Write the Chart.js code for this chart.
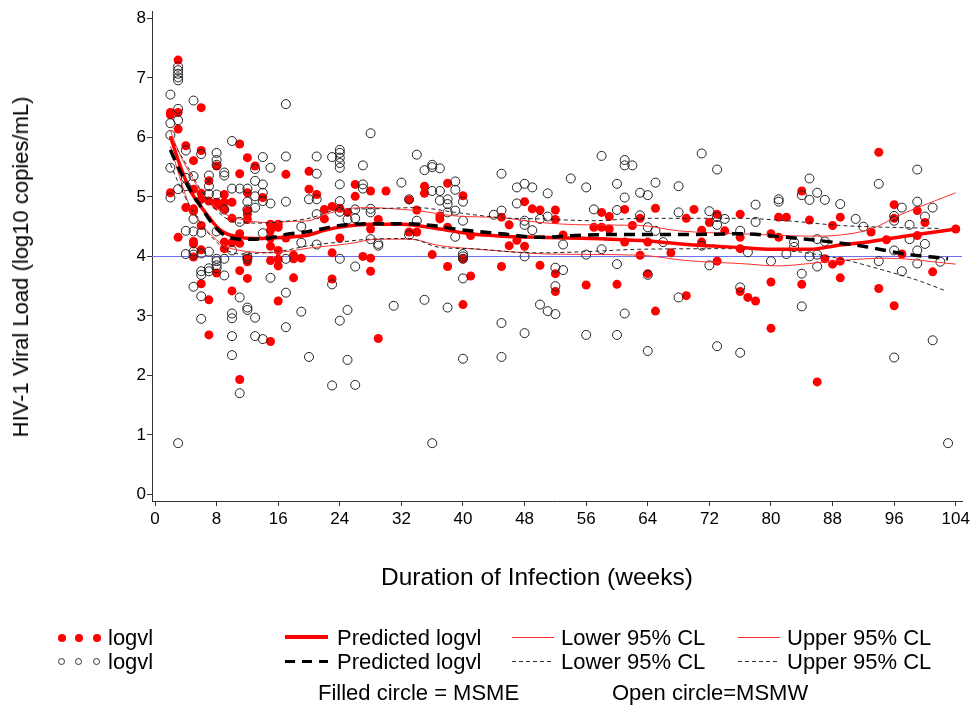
<!DOCTYPE html>
<html>
<head>
<meta charset="utf-8">
<script src="https://cdn.jsdelivr.net/npm/chart.js@4.4.1/dist/chart.umd.min.js"></script>
<style>
  html, body { margin: 0; padding: 0; background: #fff; }
  #wrap { position: relative; width: 977px; height: 713px; }
  #chart { position: absolute; left: 0; top: 0; }
  .lg { position: absolute; font: 22px "Liberation Sans", Arial, sans-serif; color: #000; line-height: 22px; white-space: nowrap; }
  .dot { position: absolute; width: 8px; height: 8px; border-radius: 50%; background: #ff0000; }
  .ring { position: absolute; width: 7px; height: 7px; border-radius: 50%; border: 1px solid #333; box-sizing: border-box; }
  .seg { position: absolute; }
  #xTitle { position: absolute; left: 381px; top: 564px; font: 24.5px "Liberation Sans", Arial, sans-serif; line-height: 26px; white-space: nowrap; }
  #yTitle { position: absolute; left: 21px; top: 267px; font: 22px "Liberation Sans", Arial, sans-serif; line-height: 24px; white-space: nowrap;
            transform: translate(-50%, -50%) rotate(-90deg); }
</style>
</head>
<body>
<div id="wrap">
  <canvas id="chart" width="977" height="713"></canvas>
  <div id="xTitle">Duration of Infection (weeks)</div>
  <div id="yTitle">HIV-1 Viral Load (log10 copies/mL)</div>
  <div id="legend"></div>
</div>
<script>
// axis ticks
const xTicks = [0, 8, 16, 24, 32, 40, 48, 56, 64, 72, 80, 88, 96, 104];
const yTicks = [0, 1, 2, 3, 4, 5, 6, 7, 8];
const refLogvl = 4;

// MSME observations [week, logvl] (filled red)
const msmePoints = [
  [2,6.42],[2,6.38],[2,5.07],
  [3,7.30],[3,6.42],[3,6.14],[3,4.32],
  [4,5.86],[4,4.82],
  [5,5.61],[5,5.13],[5,4.80],[5,4.76],[5,4.25],[5,4.21],[5,3.99],
  [6,6.50],[6,5.78],[6,5.06],[6,4.96],[6,4.52],[6,4.11],[6,3.54],
  [7,5.27],[7,4.93],[7,3.27],[7,2.68],
  [8,5.52],[8,4.91],[8,4.86],[8,3.72],
  [9,5.04],[9,4.91],[9,4.79],[9,4.24],[9,4.13],
  [10,4.91],[10,4.64],[10,4.23],[10,3.42],
  [11,5.89],[11,5.39],[11,4.38],[11,4.22],[11,3.76],[11,1.93],
  [12,5.66],[12,5.07],[12,4.77],[12,4.71],[12,4.62],[12,3.97],[12,3.91],[12,3.63],
  [13,5.52],[14,4.99],
  [15,4.54],[15,4.44],[15,4.31],[15,4.17],[15,3.93],[15,2.57],
  [16,4.54],[16,4.49],[16,4.10],[16,3.95],[16,3.84],[16,3.25],
  [17,5.38],[17,4.31],
  [18,4.02],[18,3.96],[18,3.64],
  [19,3.97],[20,5.43],[20,5.13],[21,5.04],[22,4.79],[22,4.63],
  [23,4.84],[23,4.06],[23,3.62],[24,4.81],[24,4.31],[25,4.74],
  [26,5.21],[26,5.01],[27,4.00],
  [28,5.10],[28,4.46],[28,3.97],[28,3.75],[29,4.62],[29,2.62],[30,5.10],
  [33,4.95],[33,4.41],[34,4.78],[34,4.41],[35,5.18],[35,5.06],[36,4.03],
  [37,4.68],[37,4.63],[38,5.23],[38,4.49],[38,3.83],
  [40,5.02],[40,3.96],[40,3.19],[41,4.35],[41,3.67],
  [45,4.66],[45,3.83],[46,4.53],[46,4.18],[47,4.27],[48,4.92],[48,4.17],[49,4.80],
  [50,4.78],[50,3.85],[52,4.78],[52,4.62],[52,3.71],[52,3.41],[53,4.36],
  [56,3.52],[57,4.49],[58,4.74],[58,4.49],[59,4.67],[59,4.46],[60,3.53],
  [61,4.79],[61,4.24],[62,4.52],[63,4.64],[63,4.02],[64,4.24],[64,3.71],
  [65,4.81],[65,3.08],[67,4.06],[69,4.64],[69,3.34],[70,4.79],
  [71,4.44],[71,4.24],[72,4.57],[73,4.71],[73,3.92],[74,4.43],
  [76,4.71],[76,4.32],[76,4.13],[76,3.41],[77,3.31],[78,3.25],
  [80,4.38],[80,3.57],[80,2.79],[81,4.66],[81,4.32],[82,4.66],
  [84,5.10],[84,3.53],[85,4.61],[86,1.89],[87,3.96],[88,4.52],[88,3.87],
  [89,4.66],[89,3.92],[89,3.64],[93,4.41],[94,5.75],[94,3.46],[95,4.28],
  [96,4.87],[96,4.64],[96,3.17],[97,4.04],[99,4.77],[99,4.35],[100,4.57],
  [101,3.74],[104,4.46]
];

// MSMW observations [week, logvl] (open circles)
const msmwPoints = [
  [2,6.72],[2,6.24],[2,6.04],[2,5.49],[2,4.99],
  [3,7.19],[3,7.13],[3,7.07],[3,7.01],[3,6.96],[3,6.48],[3,6.29],[3,5.13],[3,0.86],
  [4,5.78],[4,5.32],[4,5.18],[4,4.43],[4,4.04],
  [5,6.62],[5,5.35],[5,4.63],[5,4.42],[5,4.08],[5,4.03],[5,3.49],
  [6,5.72],[6,4.40],[6,4.05],[6,3.75],[6,3.69],[6,3.33],[6,2.95],
  [7,5.36],[7,5.18],[7,5.05],[7,4.08],[7,3.80],[7,3.75],
  [8,5.74],[8,5.62],[8,5.54],[8,5.04],[8,4.42],[8,3.96],[8,3.92],[8,3.85],[8,3.80],
  [9,5.41],[9,5.36],[9,4.79],[9,3.96],[9,3.68],
  [10,5.94],[10,5.14],[10,4.10],[10,3.04],[10,2.96],[10,2.66],[10,2.34],
  [11,5.14],[11,4.58],[11,3.31],[11,1.70],
  [12,5.14],[12,4.92],[12,4.79],[12,4.00],[12,3.96],[12,3.14],[12,3.10],
  [13,5.47],[13,5.27],[13,5.01],[13,4.82],[13,2.97],[13,2.66],
  [14,5.67],[14,5.21],[14,5.07],[14,4.93],[14,4.39],[14,2.61],
  [15,5.49],[15,4.89],[15,3.64],
  [17,6.56],[17,5.68],[17,4.92],[17,3.96],[17,3.39],[17,2.81],
  [19,4.50],[19,4.23],[19,3.07],[20,4.96],[20,2.31],
  [21,5.68],[21,5.39],[21,4.96],[21,4.71],[21,4.20],
  [23,5.67],[23,3.53],[23,1.83],
  [24,5.79],[24,5.74],[24,5.66],[24,5.57],[24,5.49],[24,5.21],[24,4.93],[24,4.75],[24,3.96],[24,2.92],
  [25,4.62],[25,3.10],[25,2.26],[26,4.79],[26,4.64],[26,3.83],[26,1.84],
  [27,5.53],[27,5.21],[27,5.14],[28,6.07],[28,4.80],[28,4.74],[28,4.29],
  [29,4.21],[29,4.18],[31,3.17],[32,5.24],[33,4.96],[33,4.36],[34,5.71],[34,4.60],
  [35,5.45],[35,3.27],[36,5.54],[36,5.50],[36,5.10],[36,0.86],
  [37,5.48],[37,5.10],[37,4.94],[38,4.96],[38,4.88],[38,4.74],[38,3.14],
  [39,5.26],[39,5.12],[39,4.77],[39,4.33],
  [40,4.92],[40,4.60],[40,4.04],[40,4.00],[40,3.96],[40,3.63],[40,2.28],
  [44,4.70],[45,5.39],[45,4.77],[45,2.88],[45,2.31],[47,5.16],[47,4.89],
  [48,5.22],[48,4.60],[48,4.53],[48,4.00],[48,2.71],[49,5.16],[49,4.44],
  [50,4.63],[50,3.19],[51,5.06],[51,4.67],[51,3.08],[52,3.81],[52,3.50],[52,3.03],
  [53,4.20],[53,3.77],[54,5.31],[56,5.16],[56,4.03],[56,2.68],[57,4.79],
  [58,5.69],[58,4.12],[60,5.22],[60,4.78],[60,3.87],[60,2.68],
  [61,5.62],[61,5.53],[61,4.99],[61,3.04],[62,5.53],[63,5.07],[63,4.69],
  [64,5.03],[64,4.49],[64,3.69],[64,2.41],[65,5.24],[65,4.43],[66,4.24],
  [68,5.18],[68,4.74],[68,3.31],[71,5.73],[71,4.18],[72,4.76],[72,3.85],
  [73,5.46],[73,4.66],[73,4.53],[73,2.49],[74,4.63],[76,4.43],[76,3.48],[76,2.38],
  [77,4.07],[78,4.87],[78,4.58],[80,3.92],[81,4.96],[81,4.92],[82,4.04],
  [83,4.24],[83,4.16],[84,5.03],[84,3.71],[84,3.16],[85,5.31],[85,4.95],[85,4.00],
  [86,5.07],[86,4.29],[86,4.03],[86,3.83],[87,4.95],[87,4.25],[89,4.88],
  [91,4.63],[92,4.50],[94,5.22],[94,3.92],[96,4.68],[96,4.60],[96,4.10],[96,2.30],
  [97,4.82],[97,3.75],[98,4.53],[98,4.29],[99,5.46],[99,4.92],[99,4.10],[99,3.88],
  [100,4.67],[100,4.21],[101,4.82],[101,2.59],[102,3.91],[103,0.86]
];

// fitted curves [week, logvl]
const msmeFit = [[2,6.02],[3,5.62],[4.5,5.13],[6,4.83],[7,4.66],[8,4.50],[9,4.40],[11,4.32],[13,4.30],[15,4.31],[18,4.33],[20,4.36],[22,4.44],[25,4.51],[28,4.54],[32,4.54],[37,4.46],[41,4.38],[45,4.34],[50,4.32],[59,4.29],[64,4.26],[70,4.19],[76,4.15],[80,4.12],[85,4.12],[89,4.19],[93,4.25],[98,4.35],[104,4.46]];
const msmeUcl = [[2,6.12],[3,5.78],[4.5,5.40],[6,5.08],[7,4.93],[9,4.72],[11,4.63],[13,4.58],[15,4.57],[18,4.59],[20,4.60],[22,4.70],[25,4.80],[28,4.82],[31,4.80],[34,4.77],[39,4.68],[45,4.65],[50,4.57],[56,4.53],[63,4.52],[68,4.43],[76,4.38],[80,4.36],[85,4.34],[89,4.36],[93,4.46],[97,4.71],[104,5.07]];
const msmeLcl = [[2,5.85],[3,5.42],[4.5,4.85],[6,4.55],[7,4.40],[9,4.18],[11,4.10],[13,4.07],[15,4.06],[17,4.08],[20,4.14],[25,4.21],[29,4.29],[33,4.29],[37,4.18],[41,4.13],[47,4.07],[51,4.04],[63,4.02],[69,3.93],[76,3.88],[81,3.84],[85,3.88],[89,3.93],[95,3.97],[104,3.87]];
const msmwFit = [[2,5.79],[3,5.50],[4,5.25],[5,5.02],[6,4.83],[7,4.63],[8,4.47],[9,4.36],[11,4.29],[13,4.29],[15,4.31],[17,4.37],[20,4.42],[24,4.52],[28,4.55],[32,4.55],[36,4.52],[39,4.46],[45,4.38],[50,4.32],[56,4.36],[63,4.37],[70,4.37],[76,4.38],[82,4.32],[88,4.24],[92,4.17],[97,4.05],[103,3.96]];
const msmwUcl = [[2,6.02],[3,5.78],[4.5,5.45],[6,5.10],[7,4.92],[9,4.66],[11,4.56],[14,4.56],[16,4.58],[20,4.64],[24,4.79],[28,4.80],[34,4.82],[39,4.74],[45,4.65],[50,4.63],[57,4.60],[63,4.64],[76,4.64],[82,4.60],[89,4.52],[95,4.49],[102,4.47]];
const msmwLcl = [[2,5.55],[3,5.25],[4.5,4.85],[6,4.55],[7,4.38],[9,4.13],[11,4.04],[14,4.06],[16,4.08],[20,4.18],[24,4.24],[28,4.29],[33,4.30],[37,4.15],[41,4.13],[47,4.07],[50,4.06],[56,4.08],[63,4.12],[76,4.13],[82,4.10],[89,3.96],[94,3.79],[99,3.60],[102.5,3.43]];

const FONT = '"Liberation Sans", Arial, sans-serif';
const toXY = arr => arr.map(p => ({ x: p[0], y: p[1] }));

function curve(data, color, width, dash, order){
  return {
    type: "line", data: toXY(data), borderColor: color, borderWidth: width,
    borderDash: dash, pointRadius: 0, fill: false, cubicInterpolationMode: "monotone", order
  };
}

// blue reference line at logvl 4
const refLine = {
  id: "refLine",
  beforeDatasetsDraw(chart){
    const { ctx, chartArea, scales } = chart;
    const y = Math.round(scales.y.getPixelForValue(refLogvl)) + 0.5;
    ctx.save();
    ctx.strokeStyle = "#6f6ff2";
    ctx.lineWidth = 1;
    ctx.beginPath();
    ctx.moveTo(chartArea.left, y);
    ctx.lineTo(chartArea.right, y);
    ctx.stroke();
    ctx.restore();
  }
};

new Chart(document.getElementById("chart"), {
  type: "scatter",
  data: {
    datasets: [
      { data: toXY(msmePoints), pointRadius: 4.5, pointBackgroundColor: "#ff0000", pointBorderColor: "#ff0000", pointBorderWidth: 0, order: 11 },
      { data: toXY(msmwPoints), pointRadius: 4.5, pointBackgroundColor: "rgba(0,0,0,0)", pointBorderColor: "#222", pointBorderWidth: 1, order: 10 },
      curve(msmeLcl, "#ff3030", 1, [], 5),
      curve(msmeUcl, "#ff3030", 1, [], 4),
      curve(msmwLcl, "#222", 1, [4, 3], 3),
      curve(msmwUcl, "#222", 1, [4, 3], 2),
      curve(msmeFit, "#ff0000", 3.5, [], 1),
      curve(msmwFit, "#000", 3.5, [11, 7], 0)
    ]
  },
  options: {
    responsive: false,
    devicePixelRatio: 1,
    animation: false,
    layout: { padding: { top: 7, right: 15, bottom: 0, left: 0 } },
    plugins: { legend: { display: false }, tooltip: { enabled: false } },
    scales: {
      x: {
        type: "linear", min: -0.39, max: 104.81,
        afterFit: s => { s.height = 212; },
        afterBuildTicks: s => { s.ticks = xTicks.map(v => ({ value: v })); },
        grid: { drawOnChartArea: false, drawTicks: true, tickLength: 5, tickColor: "#333" },
        border: { display: true, color: "#333", width: 1 },
        ticks: { color: "#000", font: { family: FONT, size: 17 }, padding: 3, maxRotation: 0, autoSkip: false }
      },
      y: {
        type: "linear", min: -0.112, max: 8.122,
        afterFit: s => { s.width = 152; },
        afterBuildTicks: s => { s.ticks = yTicks.map(v => ({ value: v })); },
        grid: { drawOnChartArea: false, drawTicks: true, tickLength: 5, tickColor: "#333" },
        border: { display: true, color: "#333", width: 1 },
        ticks: { color: "#000", font: { family: FONT, size: 17 }, padding: 1 }
      }
    }
  },
  plugins: [refLine]
});

// legend (Stata style, two rows + note)
const legendEl = document.getElementById("legend");
function add(html){ legendEl.insertAdjacentHTML("beforeend", html); }
const row1 = 627, row2 = 651;
[58, 75, 93].forEach(x => {
  add(`<div class="dot" style="left:${x}px;top:${row1 + 7}px"></div>`);
  add(`<div class="ring" style="left:${x}px;top:${row2 + 7}px"></div>`);
});
add(`<div class="lg" style="left:108px;top:${row1}px">logvl</div>`);
add(`<div class="lg" style="left:108px;top:${row2}px">logvl</div>`);
add(`<div class="seg" style="left:285px;top:${row1 + 8}px;width:43px;height:4px;background:#ff0000"></div>`);
add(`<div class="seg" style="left:285px;top:${row2 + 9}px;width:43px;height:3px;background:repeating-linear-gradient(90deg,#000 0 10px,transparent 10px 17px)"></div>`);
[512, 738].forEach(x => {
  add(`<div class="seg" style="left:${x}px;top:${row1 + 10}px;width:42px;height:1px;background:#ff3030"></div>`);
  add(`<div class="seg" style="left:${x}px;top:${row2 + 10}px;width:42px;height:1px;background:repeating-linear-gradient(90deg,#333 0 4px,transparent 4px 7px)"></div>`);
});
[["Predicted logvl", 337], ["Lower 95% CL", 561], ["Upper 95% CL", 787]].forEach(([t, x]) => {
  add(`<div class="lg" style="left:${x}px;top:${row1}px">${t}</div>`);
  add(`<div class="lg" style="left:${x}px;top:${row2}px">${t}</div>`);
});
add(`<div class="lg" style="left:318px;top:682px">Filled circle = MSME</div>`);
add(`<div class="lg" style="left:612px;top:682px">Open circle=MSMW</div>`);
</script>
</body>
</html>
